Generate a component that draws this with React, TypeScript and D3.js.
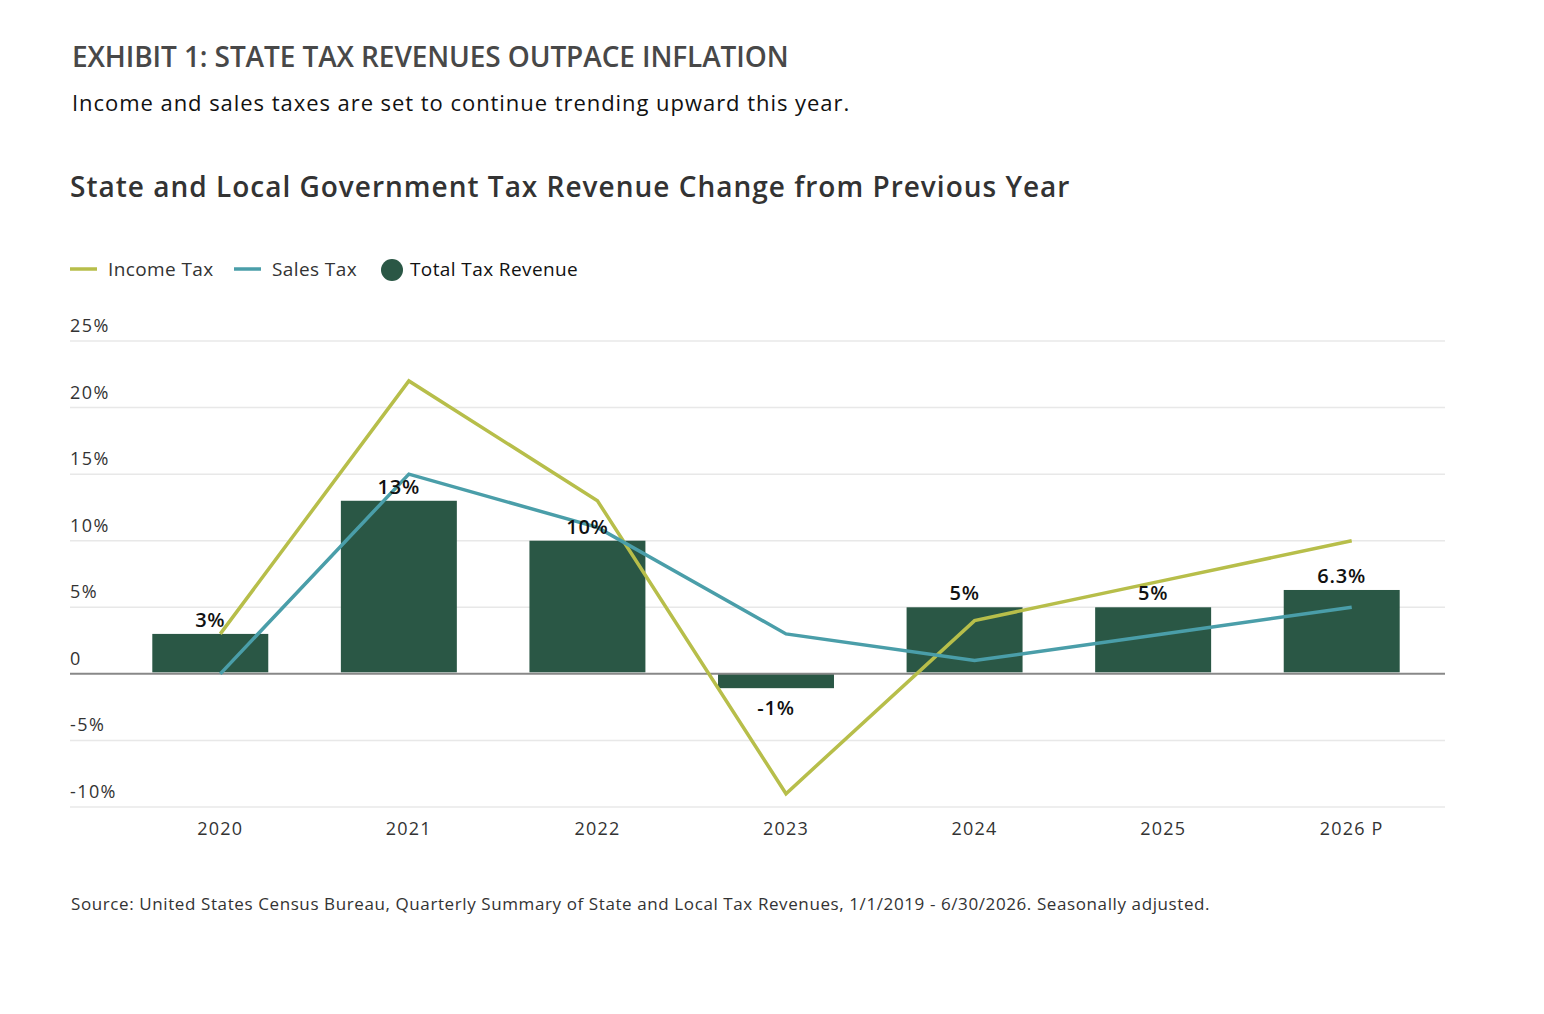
import { useEffect, useRef } from 'react'
import * as d3 from 'd3'

const years = ['2020', '2021', '2022', '2023', '2024', '2025', '2026 P']
const totalRevenue = [3, 13, 10, -1, 5, 5, 6.3]
const totalLabels = ['3%', '13%', '10%', '-1%', '5%', '5%', '6.3%']
const incomeTax = [3, 22, 13, -9, 4, 7, 10]
const salesTax = [0, 15, 11, 3, 1, 3, 5]
const yTicks = [-10, -5, 0, 5, 10, 15, 20, 25]

const width = 1528
const height = 1000
const FONT = '"Open Sans", sans-serif'
const INCOME = '#B7BE4A'
const SALES = '#4A9EA9'
const BAR = '#2A5745'

export default function App() {
  const svgRef = useRef<SVGSVGElement>(null)

  useEffect(() => {
    if (!svgRef.current) return
    const svg = d3.select(svgRef.current)
    svg.selectAll('*').remove()

    const left = 62
    const right = 1437

    // Headings
    svg.append('text')
      .attr('x', 64).attr('y', 59)
      .style('fill', '#484848').style('font-size', '28px')
      .style('font-family', FONT).style('font-weight', '600')
      .style('letter-spacing', '-0.1px')
      .text('EXHIBIT 1: STATE TAX REVENUES OUTPACE INFLATION')

    svg.append('text')
      .attr('x', 64).attr('y', 103)
      .style('fill', '#111').style('font-size', '22px')
      .style('font-family', FONT)
      .style('letter-spacing', '0.95px')
      .text('Income and sales taxes are set to continue trending upward this year.')

    svg.append('text')
      .attr('x', 62).attr('y', 189)
      .style('fill', '#333').style('font-size', '28px')
      .style('font-family', FONT).style('font-weight', '600')
      .style('letter-spacing', '1px')
      .text('State and Local Government Tax Revenue Change from Previous Year')

    // Legend
    const legend = svg.append('g').attr('transform', 'translate(62,254)')
    const legendItems = [
      { label: 'Income Tax', color: INCOME, x: 0, kind: 'line' },
      { label: 'Sales Tax', color: SALES, x: 164, kind: 'line' },
      { label: 'Total Tax Revenue', color: BAR, x: 311, kind: 'dot' }
    ]
    legendItems.forEach(item => {
      if (item.kind === 'line') {
        legend.append('line')
          .attr('x1', item.x).attr('x2', item.x + 27)
          .attr('y1', 7).attr('y2', 7)
          .style('stroke', item.color).style('stroke-width', '3.5px')
        legend.append('text')
          .attr('x', item.x + 38).attr('y', 14)
          .style('fill', '#333').style('font-size', '19px')
          .style('font-family', FONT).style('letter-spacing', '0.4px')
          .text(item.label)
      } else {
        legend.append('circle')
          .attr('cx', item.x + 11).attr('cy', 8).attr('r', 11)
          .style('fill', item.color)
        legend.append('text')
          .attr('x', item.x + 29).attr('y', 14)
          .style('fill', '#111').style('font-size', '19px')
          .style('font-family', FONT).style('letter-spacing', '0.4px')
          .text(item.label)
      }
    })

    const y = d3.scaleLinear().domain([-10, 25]).range([799, 333])
    const x = d3.scaleBand<string>().domain(years).range([118, 1438]).padding(0)
    const cx = (d: string) => (x(d) ?? 0) + x.bandwidth() / 2
    const barW = x.bandwidth() * 0.615
    const barShift = -10

    // Grid
    svg.append('g')
      .selectAll('line')
      .data(yTicks.filter(t => t !== 0))
      .join('line')
      .attr('x1', left).attr('x2', right)
      .attr('y1', d => y(d)).attr('y2', d => y(d))
      .style('stroke', '#e8e8e8').style('stroke-width', '1.5px')

    svg.append('g')
      .selectAll('text')
      .data(yTicks)
      .join('text')
      .attr('x', left).attr('y', d => y(d) - 9)
      .style('fill', '#333').style('font-size', '18px')
      .style('font-family', FONT).style('letter-spacing', '1.4px')
      .text(d => d === 0 ? '0' : `${d}%`)

    // Bars
    svg.append('g')
      .selectAll('rect')
      .data(totalRevenue)
      .join('rect')
      .attr('x', (d, i) => cx(years[i]) + barShift - barW / 2)
      .attr('width', barW)
      .attr('y', d => d >= 0 ? y(d) : y(0))
      .attr('height', d => Math.abs(y(d) - y(0)) - (d >= 0 ? 1.5 : -1))
      .style('fill', BAR)

    // Zero line
    svg.append('line')
      .attr('x1', left).attr('x2', right)
      .attr('y1', y(0)).attr('y2', y(0))
      .style('stroke', '#888').style('stroke-width', '2px')

    // Lines
    const line = d3.line<number>()
      .x((d, i) => cx(years[i]))
      .y(d => y(d))

    svg.append('path')
      .datum(incomeTax)
      .attr('d', line)
      .style('fill', 'none').style('stroke', INCOME).style('stroke-width', '3.5px')

    svg.append('path')
      .datum(salesTax)
      .attr('d', line)
      .style('fill', 'none').style('stroke', SALES).style('stroke-width', '3.5px')

    // Value labels
    svg.append('g')
      .selectAll('text')
      .data(totalRevenue)
      .join('text')
      .attr('x', (d, i) => cx(years[i]) + barShift)
      .attr('y', d => d >= 0 ? y(d) - 7 : y(0) + 41)
      .attr('text-anchor', 'middle')
      .style('fill', '#111').style('font-size', '20px')
      .style('font-family', FONT).style('font-weight', '600')
      .style('letter-spacing', '0.8px')
      .text((d, i) => totalLabels[i])

    // X labels
    svg.append('g')
      .selectAll('text')
      .data(years)
      .join('text')
      .attr('x', d => cx(d))
      .attr('y', 827)
      .attr('text-anchor', 'middle')
      .style('fill', '#333').style('font-size', '18px')
      .style('font-family', FONT).style('letter-spacing', '1.2px')
      .text(d => d)

    svg.append('text')
      .attr('x', 63).attr('y', 902)
      .style('fill', '#333').style('font-size', '17px')
      .style('font-family', FONT).style('letter-spacing', '0.6px')
      .text('Source: United States Census Bureau, Quarterly Summary of State and Local Tax Revenues, 1/1/2019 - 6/30/2026. Seasonally adjusted.')
  }, [])

  return <svg ref={svgRef} width={width} height={height} style={{ display: 'block' }} />
}
